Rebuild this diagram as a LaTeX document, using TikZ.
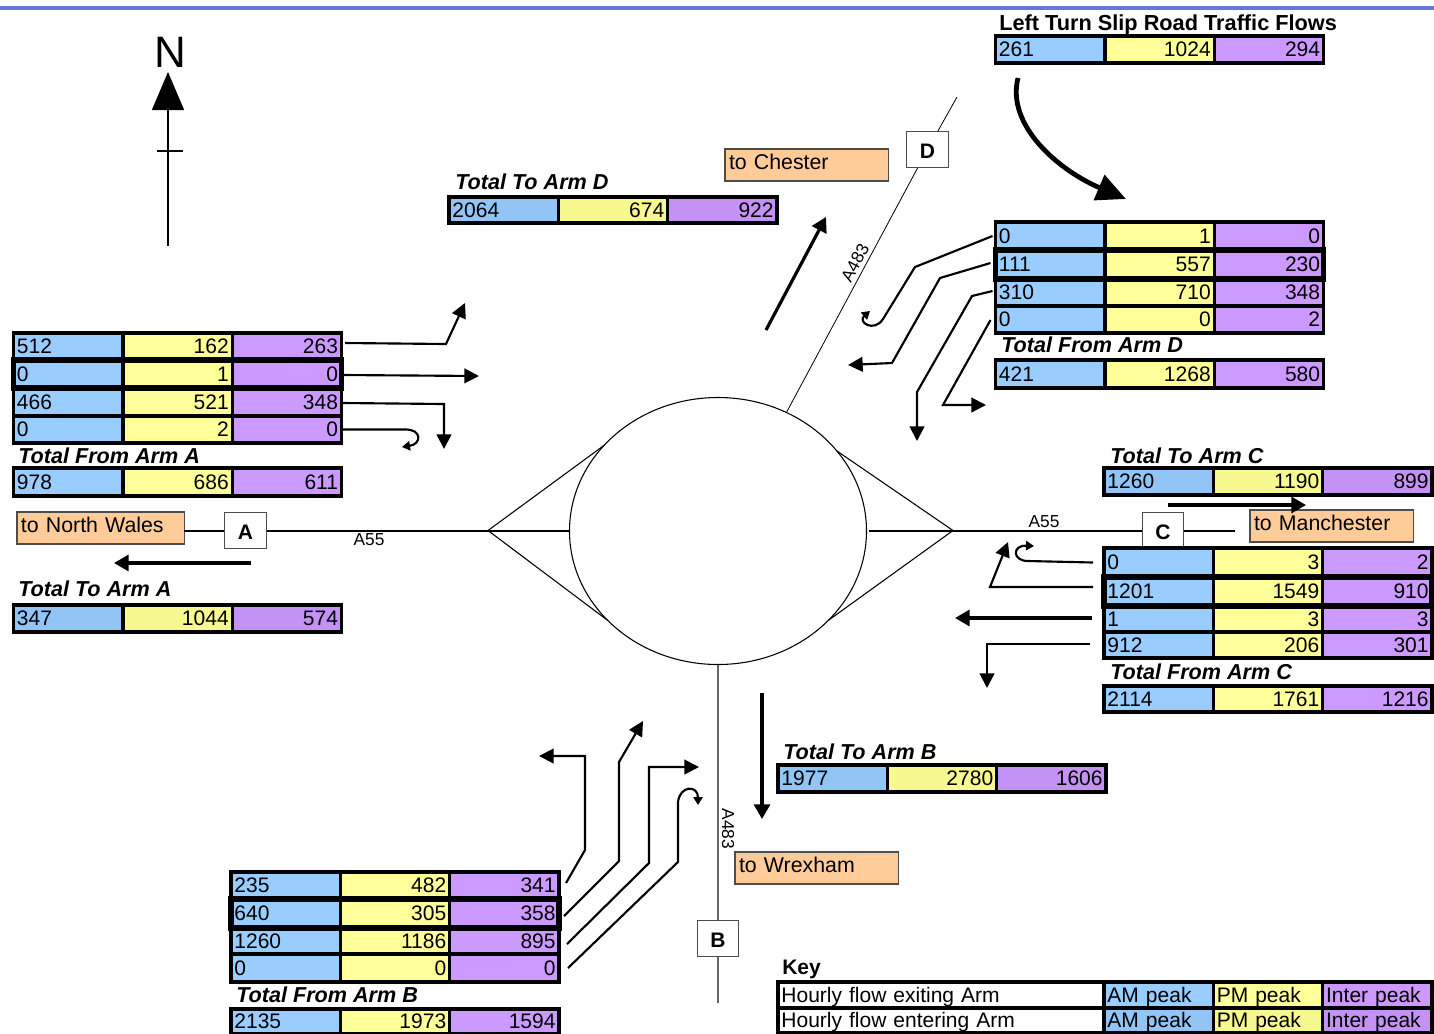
\documentclass[tikz,border=0pt]{standalone}
\usepackage{fontspec}
\setmainfont{Liberation Sans}
\usepackage{xcolor}
\usepackage{tikz}
\usetikzlibrary{shapes.geometric, arrows.meta, positioning, fit}

\definecolor{ampeak}{HTML}{99CCFF}
\definecolor{pmpeak}{HTML}{FFFF99}
\definecolor{ippeak}{HTML}{CC99FF}
\definecolor{amdith}{HTML}{92C5F5}
\definecolor{pmdith}{HTML}{F8F890}
\definecolor{ipdith}{HTML}{C492F5}
\definecolor{destfill}{HTML}{FFCC99}
\definecolor{topbar}{HTML}{6677DD}

\begin{document}
\begin{tikzpicture}[
        x=0.75pt, y=-0.75pt,
        cell/.style={rectangle, draw, line width=2.5pt, outer sep=0pt, inner ysep=0pt, inner xsep=2.6pt,
                     text width=76.8pt, text height=11.4pt, text depth=0.8pt, minimum width=82pt,
                     font=\fontsize{15.75}{18}\selectfont},
        amcell/.style={cell, fill=ampeak, align=left, minimum height=#1*0.75pt},
        pmcell/.style={cell, fill=pmpeak, align=right, minimum height=#1*0.75pt},
        ipcell/.style={cell, fill=ippeak, align=right, minimum height=#1*0.75pt},
        keycell/.style={cell, fill=white, align=left, minimum width=244.5pt, text width=239.3pt, minimum height=#1*0.75pt},
        hilite/.style={rectangle, draw, line width=3.8pt, inner sep=0pt},
        heading/.style={anchor=west, inner sep=0pt, font=\fontsize{16.2}{18}\selectfont\bfseries\itshape},
        dest/.style={rectangle, draw=black!70, line width=1pt, fill=destfill, anchor=north west, outer sep=0pt,
                     inner xsep=3pt, inner ysep=0pt, minimum width=122.5pt, minimum height=24pt, text width=116.5pt,
                     text height=11.4pt, text depth=4pt, align=left, font=\fontsize{16}{18}\selectfont},
        armbox/.style={rectangle, draw=black!70, line width=0.8pt, fill=white, minimum width=31pt, minimum height=27pt,
                       inner sep=0pt, text height=14pt, text depth=0pt, font=\fontsize{15.75}{18}\selectfont\bfseries},
        roadname/.style={inner sep=0pt, font=\fontsize{13}{15}\selectfont},
        road/.style={line width=1.5pt},
        flow/.style={-{Triangle[length=11pt,width=11pt]}, line width=1.6pt},
        uturn/.style={-{Triangle[length=6pt,width=7pt]}, line width=1.6pt},
        total/.style={-{Triangle[length=11pt,width=12pt]}, line width=2.4pt},
    ]
        \useasboundingbox (0,0) rectangle (1434,1033);
        \fill[topbar] (0,6) rectangle (1434,10);

        % Roundabout and approach roads
        \node[ellipse, draw, line width=0.8pt, outer sep=0pt, minimum width=222.75pt, minimum height=200.25pt] (rbt) at (718,531) {};
        \coordinate (apW) at (488,530.5);
        \coordinate (apE) at (953,530.5);
        \coordinate (endD) at (957,97);
        \coordinate (endB) at (718,1003);
        \coordinate (endC) at (1235,530.5);
        \node[dest, minimum width=125.5pt, text width=119.5pt] (wales) at (17,512) {to North Wales};
        \node[dest] (chester) at (725,149) {to Chester};
        \node[dest] (manch) at (1250,510) {to Manchester};
        \node[dest] (wrexham) at (735,852) {to Wrexham};
        \node[armbox] (armA) at (245.5,530.5) {A};
        \node[armbox] (armB) at (718,938.5) {B};
        \node[armbox] (armC) at (1163,530.5) {C};
        \node[armbox] (armD) at (927.5,149.5) {D};

        \draw[road] (wales.east |- apW) -- (armA) -- (apW);
        \draw[road] (apW) -- (rbt.west |- apW);
        \draw[line width=0.8pt] (apW) -- (rbt.143.6);
        \draw[line width=0.8pt] (apW) -- (rbt.219);
        \draw[road] ([xshift=2pt]rbt.east |- apE) -- (apE) -- (armC) -- (endC);
        \draw[line width=0.8pt] (apE) -- (rbt.34);
        \draw[line width=0.8pt] (apE) -- (rbt.321.5);
        \draw[line width=0.6pt] (rbt.60) -- (armD) -- (endD);
        \draw[road, black!60] (rbt.south) -- (armB) -- (endB);

        % Road names
        \node[roadname] (a55w) at (369,540) {A55};
        \node[roadname] (a55e) at (1044,522) {A55};
        \node[roadname, rotate=62] (a483n) at (855,263) {A483};
        \node[roadname, rotate=-90] (a483s) at (728,829) {A483};

        % North arrow
        \node[inner sep=0pt, font=\fontsize{33}{33}\selectfont] (north) at (170,52) {N};
        \coordinate (nBase) at (168,246);
        \coordinate (nTip) at (168,72);
        \draw[-{Triangle[length=28.5pt,width=24pt]}, line width=1pt] (nBase) -- (nTip);
        \draw[line width=1pt] (157,151) -- (183,151);

        % Arm A
        \node[amcell=27, anchor=north west] (a1am) at (13.5,333) {512}; \node[pmcell=27, right=0pt of a1am] (a1pm) {162}; \node[ipcell=27, right=0pt of a1pm] (a1ip) {263};
        \node[amcell=28, below=0pt of a1am] (a2am) {0}; \node[pmcell=28, right=0pt of a2am] (a2pm) {1}; \node[ipcell=28, right=0pt of a2pm] (a2ip) {0};
        \node[amcell=28, below=0pt of a2am] (a3am) {466}; \node[pmcell=28, right=0pt of a3am] (a3pm) {521}; \node[ipcell=28, right=0pt of a3pm] (a3ip) {348};
        \node[amcell=27, below=0pt of a3am] (a4am) {0}; \node[pmcell=27, right=0pt of a4am] (a4pm) {2}; \node[ipcell=27, right=0pt of a4pm] (a4ip) {0};
        \node[hilite, fit=(a2am)(a2ip)] (a2box) {};
        \node[heading] (fromA) at (18,456) {Total From Arm A};
        \node[amcell=28, anchor=north west] (a5am) at (13.5,468) {978}; \node[pmcell=28, right=0pt of a5am] (a5pm) {686}; \node[ipcell=28, right=0pt of a5pm] (a5ip) {611};
        \node[heading] (toA) at (18,589) {Total To Arm A};
        \node[amcell=27, fill=amdith, anchor=north west] (a6am) at (13.5,605) {347}; \node[pmcell=27, fill=pmdith, right=0pt of a6am] (a6pm) {1044}; \node[ipcell=27, fill=ipdith, right=0pt of a6pm] (a6ip) {574};

        % Arm B
        \node[amcell=27, anchor=north west] (b1am) at (231,872) {235}; \node[pmcell=27, right=0pt of b1am] (b1pm) {482}; \node[ipcell=27, right=0pt of b1pm] (b1ip) {341};
        \node[amcell=29, below=0pt of b1am] (b2am) {640}; \node[pmcell=29, right=0pt of b2am] (b2pm) {305}; \node[ipcell=29, right=0pt of b2pm] (b2ip) {358};
        \node[amcell=26, below=0pt of b2am] (b3am) {1260}; \node[pmcell=26, right=0pt of b3am] (b3pm) {1186}; \node[ipcell=26, right=0pt of b3pm] (b3ip) {895};
        \node[amcell=28, below=0pt of b3am] (b4am) {0}; \node[pmcell=28, right=0pt of b4am] (b4pm) {0}; \node[ipcell=28, right=0pt of b4pm] (b4ip) {0};
        \node[hilite, fit=(b2am)(b2ip)] (b2box) {};
        \node[heading] (fromB) at (236,995) {Total From Arm B};
        \node[amcell=25, anchor=north west] (b5am) at (231,1009) {2135}; \node[pmcell=25, right=0pt of b5am] (b5pm) {1973}; \node[ipcell=25, right=0pt of b5pm] (b5ip) {1594};
        \node[heading] (toB) at (783,752) {Total To Arm B};
        \node[amcell=27, fill=amdith, anchor=north west] (b6am) at (778,765) {1977}; \node[pmcell=27, fill=pmdith, right=0pt of b6am] (b6pm) {2780}; \node[ipcell=27, fill=ipdith, right=0pt of b6pm] (b6ip) {1606};

        % Arm C
        \node[heading] (toC) at (1110,456) {Total To Arm C};
        \node[amcell=27, fill=amdith, anchor=north west] (c6am) at (1104,468) {1260}; \node[pmcell=27, fill=pmdith, right=0pt of c6am] (c6pm) {1190}; \node[ipcell=27, fill=ipdith, right=0pt of c6pm] (c6ip) {899};
        \node[amcell=29, anchor=north west] (c1am) at (1104,548) {0}; \node[pmcell=29, right=0pt of c1am] (c1pm) {3}; \node[ipcell=29, right=0pt of c1pm] (c1ip) {2};
        \node[amcell=29, below=0pt of c1am] (c2am) {1201}; \node[pmcell=29, right=0pt of c2am] (c2pm) {1549}; \node[ipcell=29, right=0pt of c2pm] (c2ip) {910};
        \node[amcell=26, below=0pt of c2am] (c3am) {1}; \node[pmcell=26, right=0pt of c3am] (c3pm) {3}; \node[ipcell=26, right=0pt of c3pm] (c3ip) {3};
        \node[amcell=26, below=0pt of c3am] (c4am) {912}; \node[pmcell=26, right=0pt of c4am] (c4pm) {206}; \node[ipcell=26, right=0pt of c4pm] (c4ip) {301};
        \node[hilite, fit=(c2am)(c2ip)] (c2box) {};
        \node[heading] (fromC) at (1110,672) {Total From Arm C};
        \node[amcell=26, anchor=north west] (c5am) at (1104,686) {2114}; \node[pmcell=26, right=0pt of c5am] (c5pm) {1761}; \node[ipcell=26, right=0pt of c5pm] (c5ip) {1216};

        % Arm D
        \node[heading] (toD) at (455,182) {Total To Arm D};
        \node[amcell=26, fill=amdith, anchor=north west] (d6am) at (449,197) {2064}; \node[pmcell=26, fill=pmdith, right=0pt of d6am] (d6pm) {674}; \node[ipcell=26, fill=ipdith, right=0pt of d6pm] (d6ip) {922};
        \node[amcell=28, anchor=north west] (d1am) at (995.5,222) {0}; \node[pmcell=28, right=0pt of d1am] (d1pm) {1}; \node[ipcell=28, right=0pt of d1pm] (d1ip) {0};
        \node[amcell=29, below=0pt of d1am] (d2am) {111}; \node[pmcell=29, right=0pt of d2am] (d2pm) {557}; \node[ipcell=29, right=0pt of d2pm] (d2ip) {230};
        \node[amcell=27, below=0pt of d2am] (d3am) {310}; \node[pmcell=27, right=0pt of d3am] (d3pm) {710}; \node[ipcell=27, right=0pt of d3pm] (d3ip) {348};
        \node[amcell=27, below=0pt of d3am] (d4am) {0}; \node[pmcell=27, right=0pt of d4am] (d4pm) {0}; \node[ipcell=27, right=0pt of d4pm] (d4ip) {2};
        \node[hilite, fit=(d2am)(d2ip)] (d2box) {};
        \node[heading] (fromD) at (1001,345) {Total From Arm D};
        \node[amcell=28, anchor=north west] (d5am) at (995.5,360) {421}; \node[pmcell=28, right=0pt of d5am] (d5pm) {1268}; \node[ipcell=28, right=0pt of d5pm] (d5ip) {580};

        % Slip road
        \node[heading, font=\fontsize{16.3}{18}\selectfont\bfseries] (sliphead) at (999,24.5) {Left Turn Slip Road Traffic Flows};
        \node[amcell=27, anchor=north west] (s1am) at (995.5,36) {261}; \node[pmcell=27, right=0pt of s1am] (s1pm) {1024}; \node[ipcell=27, right=0pt of s1pm] (s1ip) {294};
        \coordinate (slipS) at (1018,78);
        \coordinate (slipE) at (1126,199);
        \draw[-{Triangle[length=22pt,width=20pt]}, line width=3.6pt] (slipS) .. controls (1006,125) and (1058,170) .. (slipE);

        % Key
        \node[heading, font=\fontsize{15.75}{18}\selectfont\bfseries] (keyhead) at (782,969.5) {Key};
        \node[keycell=26, anchor=north west] (k1t) at (778,982) {Hourly flow exiting Arm}; \node[amcell=26, right=0pt of k1t] (k1am) {AM peak}; \node[pmcell=26, align=left, right=0pt of k1am] (k1pm) {PM peak}; \node[ipcell=26, align=left, right=0pt of k1pm] (k1ip) {Inter peak};
        \node[keycell=25, anchor=north west] (k2t) at (778,1008) {Hourly flow entering Arm}; \node[amcell=25, fill=amdith, right=0pt of k2t] (k2am) {AM peak}; \node[pmcell=25, fill=pmdith, align=left, right=0pt of k2am] (k2pm) {PM peak}; \node[ipcell=25, fill=ipdith, align=left, right=0pt of k2pm] (k2ip) {Inter peak};

        % Flows from arm A
        \coordinate (a1e) at (465,303);
        \coordinate (a2e) at (479,376);
        \coordinate (a3e) at (444,449);
        \coordinate (a4e) at (402,447);
        \draw[flow] ([shift={(3.5,-3.5)}]a1ip.east) -- (446,344) -- (a1e);
        \draw[flow] ([shift={(1.5,1)}]a2ip.east) -- (a2e);
        \draw[flow] ([shift={(1.5,1)}]a3ip.east) -- (444,404) -- (a3e);
        \draw[uturn] ([shift={(1.5,0)}]a4ip.east) -- (405,429.5) .. controls (422,429) and (422,444) .. (a4e);

        % Flows from arm B
        \coordinate (b1e) at (539,756);
        \coordinate (b2e) at (643,721);
        \coordinate (b3e) at (699,767);
        \coordinate (b4e) at (698,805);
        \draw[flow] ([shift={(7,-2.5)}]b1ip.east) -- (585,850) -- (585,756) -- (b1e);
        \draw[flow] ([shift={(5,2.5)}]b2ip.east) -- (619,861) -- (619,762) -- (b2e);
        \draw[flow] ([shift={(8,3)}]b3ip.east) -- (649,863) -- (649,767) -- (b3e);
        \draw[uturn] ([shift={(9,0)}]b4ip.east) -- (678,862) -- (678,802) .. controls (680,785) and (698,785) .. (b4e);

        % Flows from arm C
        \coordinate (c1e) at (1034,546);
        \coordinate (c2e) at (1008,542);
        \coordinate (c3e) at (955,618);
        \coordinate (c4e) at (987,688);
        \draw[uturn] ([shift={(-11,0)}]c1am.west) -- (1028,561) .. controls (1012,561) and (1012,545) .. (c1e);
        \draw[flow] ([shift={(-11,-4.5)}]c2am.west) -- (990,587) -- (c2e);
        \draw[total] ([shift={(-12,-1)}]c3am.west) -- (c3e);
        \draw[flow] ([shift={(-14,-1)}]c4am.west) -- (987,644) -- (c4e);

        % Flows from arm D
        \coordinate (d1e) at (870,311);
        \coordinate (d2e) at (848,365);
        \coordinate (d3e) at (917,441);
        \coordinate (d4e) at (986,405);
        \draw[uturn] ([shift={(-3,0)}]d1am.west) -- (915,267) -- (883,319) .. controls (874,333) and (857,322) .. (d1e);
        \draw[flow] ([shift={(-5,-1.5)}]d2am.west) -- (940,278) -- (892,363) -- (d2e);
        \draw[flow] ([shift={(-3,-1.5)}]d3am.west) -- (972,296) -- (917,392) -- (d3e);
        \draw[flow] ([shift={(-5,0.5)}]d4am.west) -- (943,405) -- (d4e);

        % Total flows to arms
        \coordinate (tAs) at (251,563);
        \coordinate (tAe) at (114,563);
        \coordinate (tBs) at (762,693);
        \coordinate (tBe) at (762,819);
        \coordinate (tCs) at (1168,505);
        \coordinate (tCe) at (1306,505);
        \coordinate (tDs) at (766,330);
        \coordinate (tDe) at (826,217);
        \draw[total] (tAs) -- (tAe);
        \draw[total] (tBs) -- (tBe);
        \draw[total] (tCs) -- (tCe);
        \draw[total] (tDs) -- (tDe);
    \end{tikzpicture}
\end{document}
